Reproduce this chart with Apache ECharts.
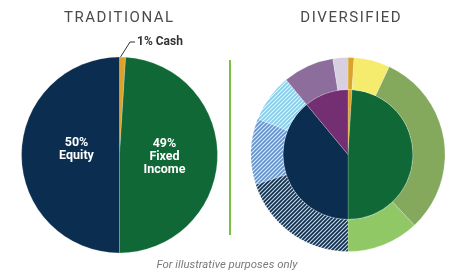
<!DOCTYPE html>
<html>
<head>
<meta charset="utf-8">
<script src="https://cdn.jsdelivr.net/npm/echarts@6/dist/echarts.min.js"></script>
<style>
  html, body { margin: 0; padding: 0; background: #fff; }
  #main { width: 450px; height: 271px; }
</style>
</head>
<body>
<div id="main"></div>
<script>
// traditional mix (clockwise from 12 o'clock)
const tradNames = ['Cash', 'Fixed Income', 'Equity'];
const tradValues = [1, 49, 50];
const tradColors = ['#dca32c', '#0f6836', '#0b2e50'];

// diversified, inner pie
const innerNames = ['Cash', 'Fixed Income', 'Equity', 'Alternatives'];
const innerValues = [1, 49, 39, 11];
const innerColors = ['#dca32c', '#0f6836', '#0b2e50', '#742f72'];

// diversified, outer ring
const outerNames = ['Cash', 'Fixed Income 1', 'Fixed Income 2', 'Fixed Income 3',
  'Equity 1', 'Equity 2', 'Equity 3', 'Alternatives 1', 'Alternatives 2'];
const outerValues = [1, 6, 31, 12, 20, 11, 8, 8.5, 2.5];
const outerColors = ['#dca32c', '#f5ec6e', '#84a95d', '#8fc865',
  '#0b2e50', '#5f92cf', '#80cdec', '#8c6d9c', '#d8cfe0'];
const outerHatched = [false, false, false, false, true, true, true, false, false];

const FONT = 'Roboto, "DejaVu Sans", sans-serif';

// diagonal white stripes "/" on a base colour
function stripePattern(base) {
  let c = document.createElement('canvas');
  c.width = 4;
  c.height = 4;
  let ctx = c.getContext('2d');
  ctx.fillStyle = base;
  ctx.fillRect(0, 0, 4, 4);
  ctx.strokeStyle = 'rgba(255,255,255,0.8)';
  ctx.lineWidth = 1.2;
  ctx.beginPath();
  ctx.moveTo(-1, 5); ctx.lineTo(5, -1);
  ctx.moveTo(-3, 3); ctx.lineTo(3, -3);
  ctx.moveTo(1, 7); ctx.lineTo(7, 1);
  ctx.stroke();
  return { image: c, repeat: 'repeat' };
}

let tradLabels = {
  'Fixed Income': { text: '49%\nFixed\nIncome', offset: [-7, 0] },
  'Equity': { text: '50%\nEquity', offset: [9, -6] }
};

let tradData = tradNames.map((n, i) => {
  let item = { name: n, value: tradValues[i], itemStyle: { color: tradColors[i] } };
  if (tradLabels[n]) {
    item.label = { show: true, position: 'inside', formatter: tradLabels[n].text, offset: tradLabels[n].offset };
  }
  return item;
});

let innerData = innerNames.map((n, i) => ({
  name: n, value: innerValues[i], itemStyle: { color: innerColors[i] }
}));

let outerData = outerNames.map((n, i) => ({
  name: n,
  value: outerValues[i],
  itemStyle: { color: outerHatched[i] ? stripePattern(outerColors[i]) : outerColors[i] }
}));

let titleStyle = { fontFamily: FONT, fontSize: 15, fill: '#4a4a4a', align: 'center', verticalAlign: 'middle' };

let myChart = echarts.init(document.getElementById('main'), null, { renderer: 'canvas' });
myChart.setOption({
  animation: false,
  graphic: [
    {
      type: 'text', x: 118.5, y: 18.5,
      style: Object.assign({ text: 'T\u200AR\u200AA\u200AD\u200AI\u200AT\u200AI\u200AO\u200AN\u200AA\u200AL' }, titleStyle)
    },
    {
      type: 'text', x: 350.5, y: 18.5,
      style: Object.assign({ text: 'D\u200AI\u200AV\u200AE\u200AR\u200AS\u200AI\u200AF\u200AI\u200AE\u200AD' }, titleStyle)
    },
    {
      type: 'text', x: 227, y: 265,
      style: {
        text: 'For illustrative purposes only', fontFamily: FONT, fontSize: 11.4,
        fontStyle: 'italic', fill: '#7a7a7a', align: 'center', verticalAlign: 'middle'
      }
    },
    {
      type: 'line',
      shape: { x1: 230, y1: 60, x2: 230, y2: 235 },
      style: { stroke: '#7ac143', lineWidth: 2 }
    },
    {
      type: 'polyline',
      shape: { points: [[120.5, 57], [130, 42], [135, 42]] },
      style: { stroke: '#333', lineWidth: 1, fill: null }
    },
    {
      type: 'text',
      x: 137, y: 42,
      style: {
        text: '1% Cash', fontFamily: FONT, fontSize: 12, fontWeight: 'bold',
        fill: '#333', verticalAlign: 'middle', align: 'left'
      }
    }
  ],
  series: [
    {
      name: 'Traditional',
      type: 'pie',
      center: [119.5, 155],
      radius: 98,
      startAngle: 90,
      clockwise: true,
      silent: true,
      label: {
        show: false,
        color: '#fff', fontFamily: FONT, fontSize: 12.5, fontWeight: 'bold', lineHeight: 13
      },
      labelLine: { show: false },
      itemStyle: { borderColor: 'rgba(255,255,255,0.4)', borderWidth: 0.5 },
      data: tradData
    },
    {
      name: 'Diversified inner',
      type: 'pie',
      center: [348, 154.5],
      radius: 65,
      startAngle: 90,
      silent: true,
      label: { show: false },
      labelLine: { show: false },
      itemStyle: { borderColor: 'rgba(255,255,255,0.4)', borderWidth: 0.5 },
      data: innerData
    },
    {
      name: 'Diversified outer',
      type: 'pie',
      center: [348, 154.5],
      radius: [65, 97],
      startAngle: 90,
      silent: true,
      label: { show: false },
      labelLine: { show: false },
      itemStyle: { borderColor: 'rgba(255,255,255,0.4)', borderWidth: 0.5 },
      data: outerData
    }
  ]
});
</script>
</body>
</html>
